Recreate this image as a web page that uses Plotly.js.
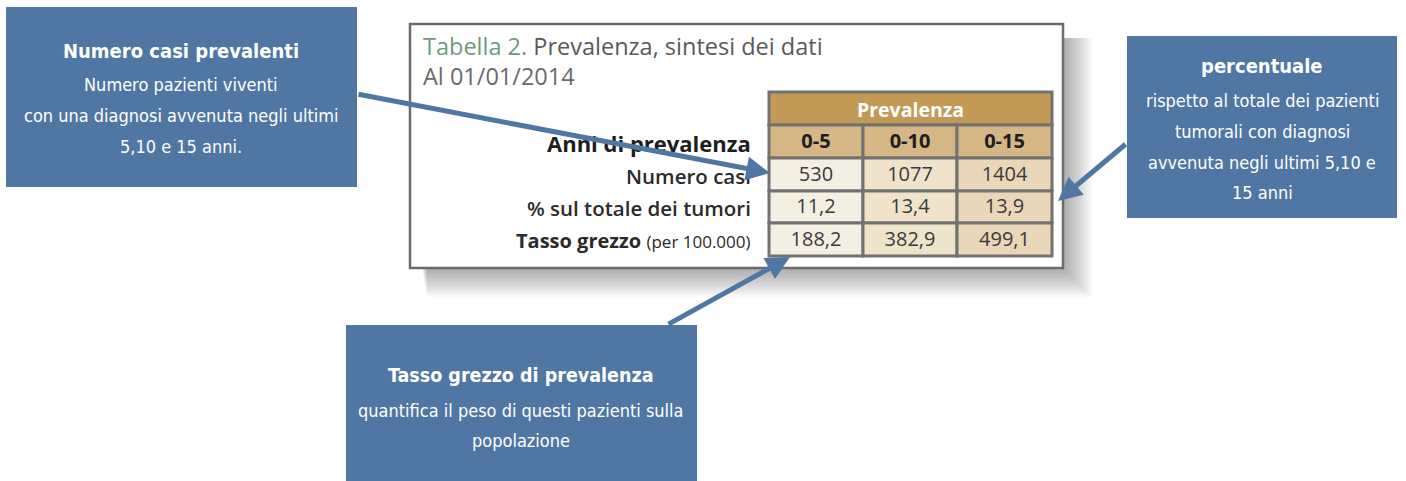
<!DOCTYPE html>
<html><head><meta charset="utf-8">
<script src="https://cdn.plot.ly/plotly-3.0.1.min.js"></script>
<style>html,body{margin:0;padding:0;background:#fff;}#chart{width:1406px;height:481px;}</style>
</head><body><div id="chart"></div>
<script>
// ---- data ----
const titleLead = 'Tabella 2.';
const titleRest = 'Prevalenza, sintesi dei dati';
const subtitle = 'Al 01/01/2014';
const groupHeader = 'Prevalenza';
const headerLabel = 'Anni di prevalenza';
const colHeaders = ['0-5', '0-10', '0-15'];
const rowLabels = ['Numero casi', '% sul totale dei tumori', 'Tasso grezzo'];
const rowLabelNotes = ['', '', '(per 100.000)'];
const numeroCasi = [530, 1077, 1404];
const percTotale = [11.2, 13.4, 13.9];
const tassoGrezzo = [188.2, 382.9, 499.1];
const callout1 = ['Numero casi prevalenti', 'Numero pazienti viventi', 'con una diagnosi avvenuta negli ultimi', '5,10 e 15 anni.'];
const callout2 = ['percentuale', 'rispetto al totale dei pazienti', 'tumorali con diagnosi', 'avvenuta negli ultimi 5,10 e', '15 anni'];
const callout3 = ['Tasso grezzo di prevalenza', 'quantifica il peso di questi pazienti sulla', 'popolazione'];

// ---- layout geometry / styles ----
const BLUE = '#5077a3';
const TABLE_FONT = 'Open Sans, Noto Sans, sans-serif';
const NARROW_FONT = 'DejaVu Sans Condensed, Liberation Sans Narrow, sans-serif';
const colEdges = [769, 863, 957, 1052];
const rowEdges = [92, 125, 158, 191, 223, 256];
const colFills = ['#f4efe3', '#efe3cc', '#e8d7b9'];
const gridColor = '#727272';
const frame = {x0: 410, y0: 24, x1: 1063, y1: 268};

const fmt = (v, dec) => dec ? v.toFixed(1).replace('.', ',') : String(v);
const rows = [numeroCasi.map(v => fmt(v, false)), percTotale.map(v => fmt(v, true)), tassoGrezzo.map(v => fmt(v, true))];

const shapes = [];
const rect = (x0, y0, x1, y1, fill, line) => shapes.push({type: 'rect', xref: 'x', yref: 'y', x0, y0, x1, y1,
  fillcolor: fill, line: line || {width: 0}, layer: 'below'});
// soft drop shadow (layered translucent rects)
for (let i = 0; i < 18; i++) {
  const d = 2 + i * 1.6;
  rect(frame.x0 + 12 + i * 0.3, frame.y0 + 14, frame.x1 + d, frame.y1 + d, 'rgba(90,90,90,0.026)');
}
// frame
rect(frame.x0, frame.y0, frame.x1, frame.y1, '#ffffff', {color: '#6b6b6b', width: 2.5});
// callout boxes
[{x0: 6, y0: 7, x1: 357, y1: 187}, {x0: 1127, y0: 36, x1: 1397, y1: 218}, {x0: 346, y0: 325, x1: 697, y1: 485}]
  .forEach(b => rect(b.x0, b.y0, b.x1, b.y1, BLUE));
// group header
rect(colEdges[0], rowEdges[0], colEdges[3], rowEdges[1], '#c39a55', {color: gridColor, width: 3});
// column headers
colHeaders.forEach((h, c) => rect(colEdges[c], rowEdges[1], colEdges[c + 1], rowEdges[2], '#d5b684', {color: gridColor, width: 3}));
// data cells
rows.forEach((r, ri) => r.forEach((v, c) => rect(colEdges[c], rowEdges[ri + 2], colEdges[c + 1], rowEdges[ri + 3], colFills[c], {color: gridColor, width: 3})));

const colCenters = colHeaders.map((_, c) => (colEdges[c] + colEdges[c + 1]) / 2);
const rowCenter = i => (rowEdges[i] + rowEdges[i + 1]) / 2;

const traces = [];
// cell values
const tx = [], ty = [], tt = [];
rows.forEach((r, ri) => r.forEach((v, c) => { tx.push(colCenters[c]); ty.push(rowCenter(ri + 2) + 1); tt.push(v); }));
traces.push({type: 'scatter', mode: 'text', x: tx, y: ty, text: tt, textposition: 'middle center',
  textfont: {family: TABLE_FONT, size: 20, color: '#3a3a3a'}, hoverinfo: 'skip', cliponaxis: false});
// column headers
traces.push({type: 'scatter', mode: 'text', x: colCenters, y: colHeaders.map(() => rowCenter(1) + 1), text: colHeaders.map(h => '<b>' + h + '</b>'),
  textposition: 'middle center', textfont: {family: TABLE_FONT, size: 20, color: '#1e1e1e'}, hoverinfo: 'skip', cliponaxis: false});

const annotations = [];
const ann = (x, y, text, size, color, opts) => annotations.push(Object.assign({x, y, xref: 'x', yref: 'y', text, showarrow: false,
  font: {family: TABLE_FONT, size, color}, xanchor: 'center', yanchor: 'middle'}, opts || {}));

// titles
ann(421, 46, '<span style="color:#6d9b7c">' + titleLead + '</span> ' + titleRest, 23.5, '#595959', {xanchor: 'left'});
ann(421, 76, subtitle, 23.5, '#6a6a6a', {xanchor: 'left'});
// group header
ann((colEdges[0] + colEdges[3]) / 2, rowCenter(0) + 1, '<b>' + groupHeader + '</b>', 19.5, '#ffffff');
// row labels
ann(753, rowCenter(1) + 1, '<b>' + headerLabel + '</b>', 22, '#1e1e1e', {xanchor: 'right'});
rowLabels.forEach((l, i) => {
  let t = i === 2 ? '<b>' + l + '</b>' : '<span style="font-weight:600">' + l + '</span>';
  if (rowLabelNotes[i]) t += ' <span style="font-size:17px">' + rowLabelNotes[i] + '</span>';
  ann(753, rowCenter(i + 2) + 1, t, i === 2 ? 20 : 20.5, '#2a2a2a', {xanchor: 'right'});
});

// callout text
const calloutText = (lines, cx, ys, sizes) => lines.forEach((l, i) =>
  ann(cx, ys[i], i === 0 ? '<b>' + l + '</b>' : l, sizes[i], '#ffffff', {font: {family: NARROW_FONT, size: sizes[i], color: '#ffffff'}}));
calloutText(callout1, 181, [51, 84, 115, 146], [20, 18, 18, 18]);
calloutText(callout2, 1262, [66, 100, 131, 162, 192], [20, 18, 18, 18, 18]);
calloutText(callout3, 521, [375, 410, 440], [19.5, 18, 18]);

// arrows
const arrow = (x, y, ax, ay) => annotations.push({x, y, ax, ay, xref: 'x', yref: 'y', axref: 'x', ayref: 'y', text: '',
  showarrow: true, arrowhead: 2, arrowsize: 0.95, arrowwidth: 5, arrowcolor: BLUE, standoff: 0, startstandoff: 0});
arrow(770, 173, 357, 94);
arrow(1058, 201, 1127, 143);
arrow(790, 257, 667, 325);

const layout = {
  width: 1406, height: 481, margin: {l: 0, r: 0, t: 0, b: 0},
  paper_bgcolor: '#ffffff', plot_bgcolor: '#ffffff', showlegend: false,
  xaxis: {range: [0, 1406], visible: false, fixedrange: true},
  yaxis: {range: [481, 0], visible: false, fixedrange: true},
  shapes, annotations
};
Plotly.newPlot('chart', traces, layout, {staticPlot: true, displayModeBar: false});
</script></body></html>
